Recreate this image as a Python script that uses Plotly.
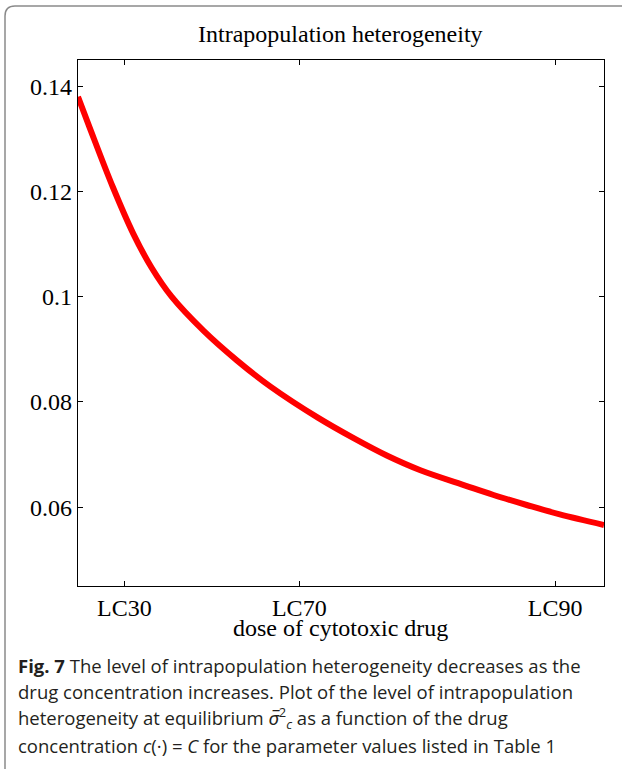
import plotly.graph_objects as go

# Data (dose on a normalised axis, heterogeneity at equilibrium)
dose = [0.0, 0.022, 0.066, 0.105, 0.140, 0.178, 0.239, 0.302, 0.366, 0.456, 0.524,
        0.587, 0.651, 0.739, 0.790, 0.853, 0.916, 1.0]
heterogeneity = [0.1380, 0.1322, 0.1209, 0.1120, 0.1055, 0.1000, 0.0935, 0.0879, 0.0829, 0.0770,
                 0.0731, 0.0698, 0.0670, 0.0640, 0.0623, 0.0604, 0.0586, 0.0566]
tick_vals = [0.0883, 0.4207, 0.907]
tick_text = ["LC30", "LC70", "LC90"]
y_ticks = [0.06, 0.08, 0.10, 0.12, 0.14]
y_tick_text = ["0.06", "0.08", "0.1", "0.12", "0.14"]

caption_lines = [
    "<b>Fig. 7</b> The level of intrapopulation heterogeneity decreases as the",
    "drug concentration increases. Plot of the level of intrapopulation",
    "heterogeneity at equilibrium <i>σ̅</i><sup>2</sup><sub><i>c</i></sub> as a function of the drug",
    "concentration <i>c</i>(·) = <i>C</i> for the parameter values listed in Table 1",
]

W, H = 622, 769
L, R, T, B = 78, 18, 60, 183
PW, PH = W - L - R, H - T - B


def px(x):
    return (x - L) / PW


def py(y):
    return 1 - (y - T) / PH


serif = "Liberation Serif, Times New Roman, serif"

fig = go.Figure()
fig.add_trace(go.Scatter(x=dose, y=heterogeneity, mode="lines",
                         line=dict(color="#ff0000", width=6, shape="spline", smoothing=1.0),
                         hoverinfo="skip", showlegend=False))

axis_common = dict(showgrid=False, zeroline=False, showline=True, linecolor="black",
                   linewidth=1.2, mirror="ticks", ticks="inside", ticklen=5,
                   tickcolor="black", tickwidth=1,
                   tickfont=dict(family=serif, size=24, color="black"))

fig.update_xaxes(range=[0, 1], tickvals=tick_vals, ticktext=tick_text, **axis_common)
fig.update_yaxes(range=[0.045, 0.145], tickvals=y_ticks, ticktext=y_tick_text, **axis_common)

annotations = [
    dict(text="Intrapopulation heterogeneity", x=px(340), y=py(34), xref="paper", yref="paper",
         xanchor="center", yanchor="middle", showarrow=False,
         font=dict(family=serif, size=24, color="black")),
    dict(text="dose of cytotoxic drug", x=px(340), y=py(628), xref="paper", yref="paper",
         xanchor="center", yanchor="middle", showarrow=False,
         font=dict(family=serif, size=24, color="black")),
]
for i, line in enumerate(caption_lines):
    annotations.append(dict(text=line, x=px(16), y=py(665 + i * 26.7), xref="paper", yref="paper",
                            xanchor="left", yanchor="middle", showarrow=False, align="left",
                            font=dict(family="Open Sans, Noto Sans, sans-serif", size=18.5,
                                      color="#231f20")))

# rounded frame around the figure
r = 10
frame_path = (f"M {px(5)},{py(800)} L {px(5)},{py(6 + r)} "
              f"Q {px(5)},{py(6)} {px(5 + r)},{py(6)} L {px(640)},{py(6)}")
shapes = [dict(type="path", xref="paper", yref="paper", path=frame_path,
               line=dict(color="#8a8a8a", width=1.5), layer="below")]

fig.update_layout(width=W, height=H, margin=dict(l=L, r=R, t=T, b=B),
                  paper_bgcolor="white", plot_bgcolor="white",
                  annotations=annotations, shapes=shapes, showlegend=False)

fig.write_html("out.html", config={"displayModeBar": False},
               post_script="document.body.style.margin='0';document.body.style.overflow='hidden';")
